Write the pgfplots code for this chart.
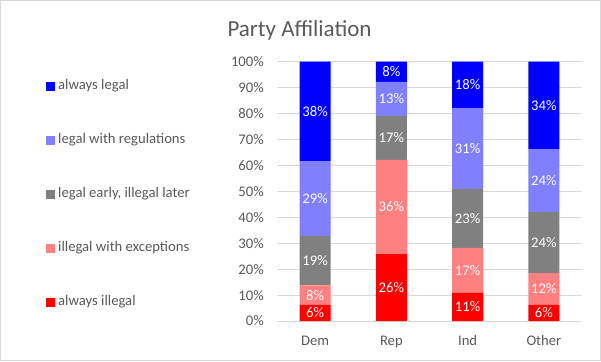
\documentclass[border=0pt]{standalone}
\usepackage{fontspec}
\setmainfont{Carlito}
\usepackage{pgfplots}
\pgfplotsset{compat=1.18}
\usepackage{pgfplotstable}
\definecolor{cAL}{HTML}{0000FF}
\definecolor{cLR}{HTML}{8080FF}
\definecolor{cEL}{HTML}{808080}
\definecolor{cIE}{HTML}{FF8080}
\definecolor{cAI}{HTML}{FF0000}
\definecolor{txt}{HTML}{595959}
\definecolor{gridc}{HTML}{D9D9D9}

\pgfplotstableread{
x illegal except early regs legal
0 6.2 7.5 19.1 28.9 38.3
1 25.8 36.3 17.0 13.1 7.8
2 10.8 17.4 22.7 31.2 17.9
3 6.2 12.3 23.5 24.3 33.7
}\data

\pgfplotstableread{
x y label
0 3.1 6
0 9.95 8
0 23.25 19
0 47.25 29
0 80.85 38
1 12.9 26
1 43.95 36
1 70.6 17
1 85.65 13
1 96.1 8
2 5.4 11
2 19.5 17
2 39.55 23
2 66.5 31
2 91.05 18
3 3.1 6
3 12.35 12
3 30.25 24
3 54.15 24
3 83.15 34
}\labels

\pgfplotsset{sqlegend/.style={legend image code/.code={\fill[##1,draw=none] (0pt,-4.25pt) rectangle (8.5pt,4.25pt);}}}

\begin{document}
\begin{tikzpicture}[x=1pt,y=1pt]
\path[use as bounding box] (0,0) rectangle (601,361);
\draw[gridc, line width=1pt] (0.5,0.5) rectangle (600.5,360.5);
\node[text=txt, font=\fontsize{23}{27}\selectfont, anchor=base, inner sep=0pt] at (299.5pt,324.3pt) {Party Affiliation};
\begin{axis}[
  at={(277pt,40pt)}, anchor=south west, scale only axis,
  width=305pt, height=259.3pt,
  ybar stacked, bar width=31pt,
  xmin=-0.5, xmax=3.5, ymin=0, ymax=100,
  xtick={0,1,2,3}, xticklabels={Dem,Rep,Ind,Other},
  ytick={0,10,...,100},
  yticklabels={0\%,10\%,20\%,30\%,40\%,50\%,60\%,70\%,80\%,90\%,100\%},
  major tick length=0pt,
  axis line style={draw=none},
  ymajorgrids, grid style={gridc, line width=1pt},
  tick label style={font=\fontsize{14.67}{17}\selectfont, text=txt},
  yticklabel style={inner xsep=0pt, xshift=-13pt},
  xticklabel style={inner sep=0pt, anchor=base, yshift=-24pt},
  reverse legend,
  legend cell align=left,
  legend style={at={(-0.7574,0.933)}, anchor=north west, draw=none, fill=none,
    font=\fontsize{14.67}{17}\selectfont, text=txt, inner sep=0pt,
    row sep=40pt,
    nodes={inner sep=0pt, text height=10pt, text depth=4pt},
    /tikz/every odd column/.append style={column sep=3.5pt}},
]
\addplot[fill=cAI, draw=none, sqlegend] table[x=x, y=illegal] {\data};
\addlegendentry{always illegal}
\addplot[fill=cIE, draw=none, sqlegend] table[x=x, y=except] {\data};
\addlegendentry{illegal with exceptions}
\addplot[fill=cEL, draw=none, sqlegend] table[x=x, y=early] {\data};
\addlegendentry{legal early, illegal later}
\addplot[fill=cLR, draw=none, sqlegend] table[x=x, y=regs] {\data};
\addlegendentry{legal with regulations}
\addplot[fill=cAL, draw=none, sqlegend] table[x=x, y=legal] {\data};
\addlegendentry{always legal}
\end{axis}
\begin{axis}[
  at={(277pt,40pt)}, anchor=south west, scale only axis,
  width=305pt, height=259.3pt,
  xmin=-0.5, xmax=3.5, ymin=0, ymax=100,
  hide axis,
]
\addplot[only marks, mark=none, point meta=explicit symbolic,
  nodes near coords={\pgfplotspointmeta\%},
  every node near coord/.append style={anchor=center, text=white, inner sep=0pt,
    font=\fontsize{14.67}{17}\selectfont}]
  table[x=x, y=y, meta=label] {\labels};
\end{axis}
\end{tikzpicture}
\end{document}
